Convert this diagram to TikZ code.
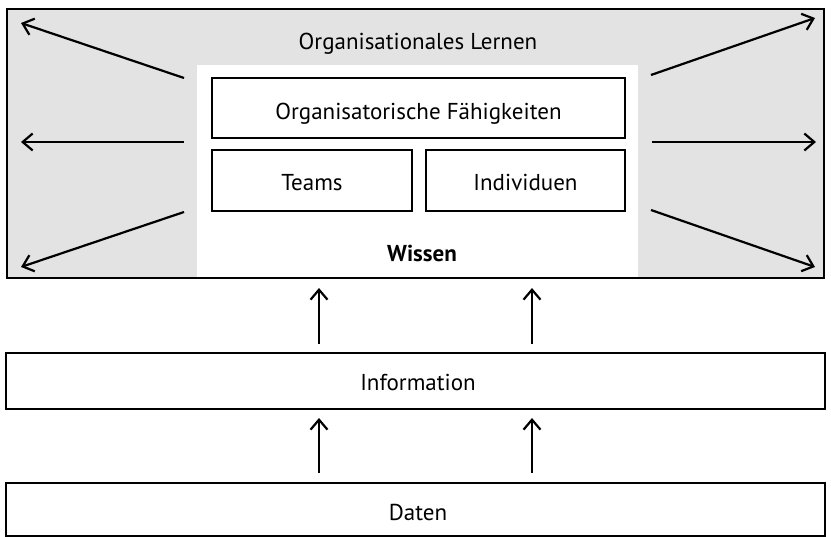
\documentclass[tikz,border=0pt]{standalone}
\usepackage{fontspec}
\setmainfont{PT Sans}
\usetikzlibrary{arrows.meta}
\begin{document}
\begin{tikzpicture}[x=1pt,y=-1pt,
  box/.style={draw=black,line width=2.4pt},
  lbl/.style={font=\fontsize{23}{26}\selectfont,text=black,anchor=base,inner sep=0pt},
  arr/.style={line width=2.2pt,-{Straight Barb[length=10pt,width=17pt,line width=2.2pt]}}]
\useasboundingbox (0,0) rectangle (831,537);
% outer
\draw[box,fill=black!11] (7,9) rectangle (824,278);
\fill[white] (197,65) rectangle (638,277);
\node[lbl] (ol) at (418,50) {Organisationales Lernen};
\draw[box,fill=white] (212,78) rectangle (625,138);
\node[lbl] (of) at (418.5,120) {Organisatorische Fähigkeiten};
\draw[box,fill=white] (212,150) rectangle (412,211);
\node[lbl] (te) at (312,191) {Teams};
\draw[box,fill=white] (426,150) rectangle (625,211);
\node[lbl] (in) at (525.5,191) {Individuen};
\node[lbl,font=\fontsize{23}{26}\selectfont\bfseries] (wi) at (422,262) {Wissen};
% diagonal arrows
\coordinate (l1s) at (184,78); \coordinate (l1e) at (21,23);
\coordinate (l2s) at (184,142); \coordinate (l2e) at (21,142);
\coordinate (l3s) at (184,212); \coordinate (l3e) at (21,267);
\coordinate (r1s) at (651,75); \coordinate (r1e) at (815,18);
\coordinate (r2s) at (652,142); \coordinate (r2e) at (816,142);
\coordinate (r3s) at (651,210); \coordinate (r3e) at (815,267);
\draw[arr] (l1s) -- (l1e);
\draw[arr] (l2s) -- (l2e);
\draw[arr] (l3s) -- (l3e);
\draw[arr] (r1s) -- (r1e);
\draw[arr] (r2s) -- (r2e);
\draw[arr] (r3s) -- (r3e);
% information
\draw[box] (6,353) rectangle (825,409);
\node[lbl] (inf) at (418,391) {Information};
\draw[box] (6,483) rectangle (825,536);
\node[lbl] (da) at (418,521) {Daten};
% vertical arrows
\coordinate (a1s) at (319,344); \coordinate (a1e) at (319,288);
\coordinate (a2s) at (532,344); \coordinate (a2e) at (532,288);
\coordinate (a3s) at (319,473); \coordinate (a3e) at (319,418);
\coordinate (a4s) at (532,473); \coordinate (a4e) at (532,418);
\draw[arr] (a1s) -- (a1e);
\draw[arr] (a2s) -- (a2e);
\draw[arr] (a3s) -- (a3e);
\draw[arr] (a4s) -- (a4e);
\end{tikzpicture}
\end{document}
